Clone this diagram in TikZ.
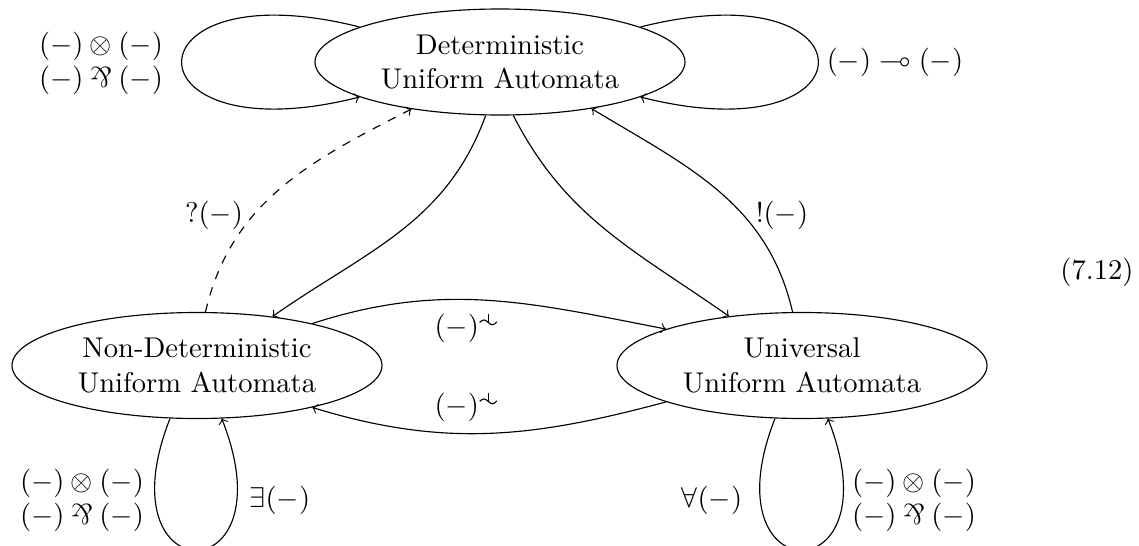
\documentclass[tikz,border=0pt]{standalone}
\usepackage{amssymb}
\usepackage{graphicx}
\usetikzlibrary{shapes.geometric}
\newcommand{\myparr}{\mathbin{\rotatebox[origin=c]{180}{$\&$}}}
\newcommand{\tildeperp}{\tikz[baseline=0pt,line width=0.4pt]{\draw (0,4.6pt) .. controls (1.2pt,5.9pt) and (1.9pt,5.6pt) .. (3pt,4.6pt) .. controls (4.1pt,3.6pt) and (4.9pt,3.4pt) .. (6pt,4.8pt); \draw (3pt,4.6pt) -- (3pt,7.6pt);}}
\tikzset{
  automaton/.style={draw, ellipse, minimum width=129.5pt, minimum height=37.1pt, inner sep=0pt, align=center},
  lbl/.style={inner sep=0pt, align=center},
  arr/.style={->}
}
\begin{document}
\begin{tikzpicture}[x=0.35pt,y=-0.35pt]
\useasboundingbox (0,0) rectangle (1139,546);
\clip (0,0) rectangle (1139,546);
\node[automaton] (D) at (500,62) {Deterministic\\Uniform Automata};
\node[automaton] (N) at (197,365.5) {Non-Deterministic\\Uniform Automata};
\node[automaton] (U) at (802,365.5) {Universal\\Uniform Automata};

% loops
\draw[arr] (D.166.5) .. controls +(165.8:85.6pt) and +(194.2:85.6pt) .. (D.194.2);
\draw[arr] (D.14) .. controls +(14.2:85.6pt) and +(-14.2:85.6pt) .. (D.-14.2);
\draw[arr] (N.243.2) .. controls +(-111.5:66pt) and +(-68.5:66pt) .. (N.-65);
\draw[arr] (U.243.2) .. controls +(-111.5:66pt) and +(-68.5:66pt) .. (U.-64);

% connectors
\draw[arr] (D.-105.3) to[out=-110,in=35] (N.33);
\draw[arr] (D.-76.7) to[out=-63,in=145] (U.146);
\draw[arr] (U.100.6) to[out=103,in=-31] (D.-27.3);
\draw[arr,dashed] (N.81.5) to[out=77,in=-153] (D.-152.7);
\draw[arr] (N.20.3) to[out=18,in=169] (U.165.3);
\draw[arr] (U.195.3) to[out=195,in=-17] (N.-20);

% labels
\node[lbl] (l1) at (101,63) {$(-)\otimes(-)$\\$(-)\myparr(-)$};
\node[lbl] (l2) at (895,62) {$(-)\multimap(-)$};
\node[lbl] (l3) at (214,215) {$?(-)$};
\node[lbl] (l4) at (782,215) {$!(-)$};
\node[lbl] (l5) at (466,328) {$(-)$\tildeperp};
\node[lbl] (l6) at (466,407) {$(-)$\tildeperp};
\node[lbl] (l7) at (82,500) {$(-)\otimes(-)$\\$(-)\myparr(-)$};
\node[lbl] (l8) at (280,500) {$\exists(-)$};
\node[lbl] (l9) at (712,500) {$\forall(-)$};
\node[lbl] (l10) at (914,500) {$(-)\otimes(-)$\\$(-)\myparr(-)$};
\node[lbl] (eq) at (1097,272) {(7.12)};
\end{tikzpicture}
\end{document}
